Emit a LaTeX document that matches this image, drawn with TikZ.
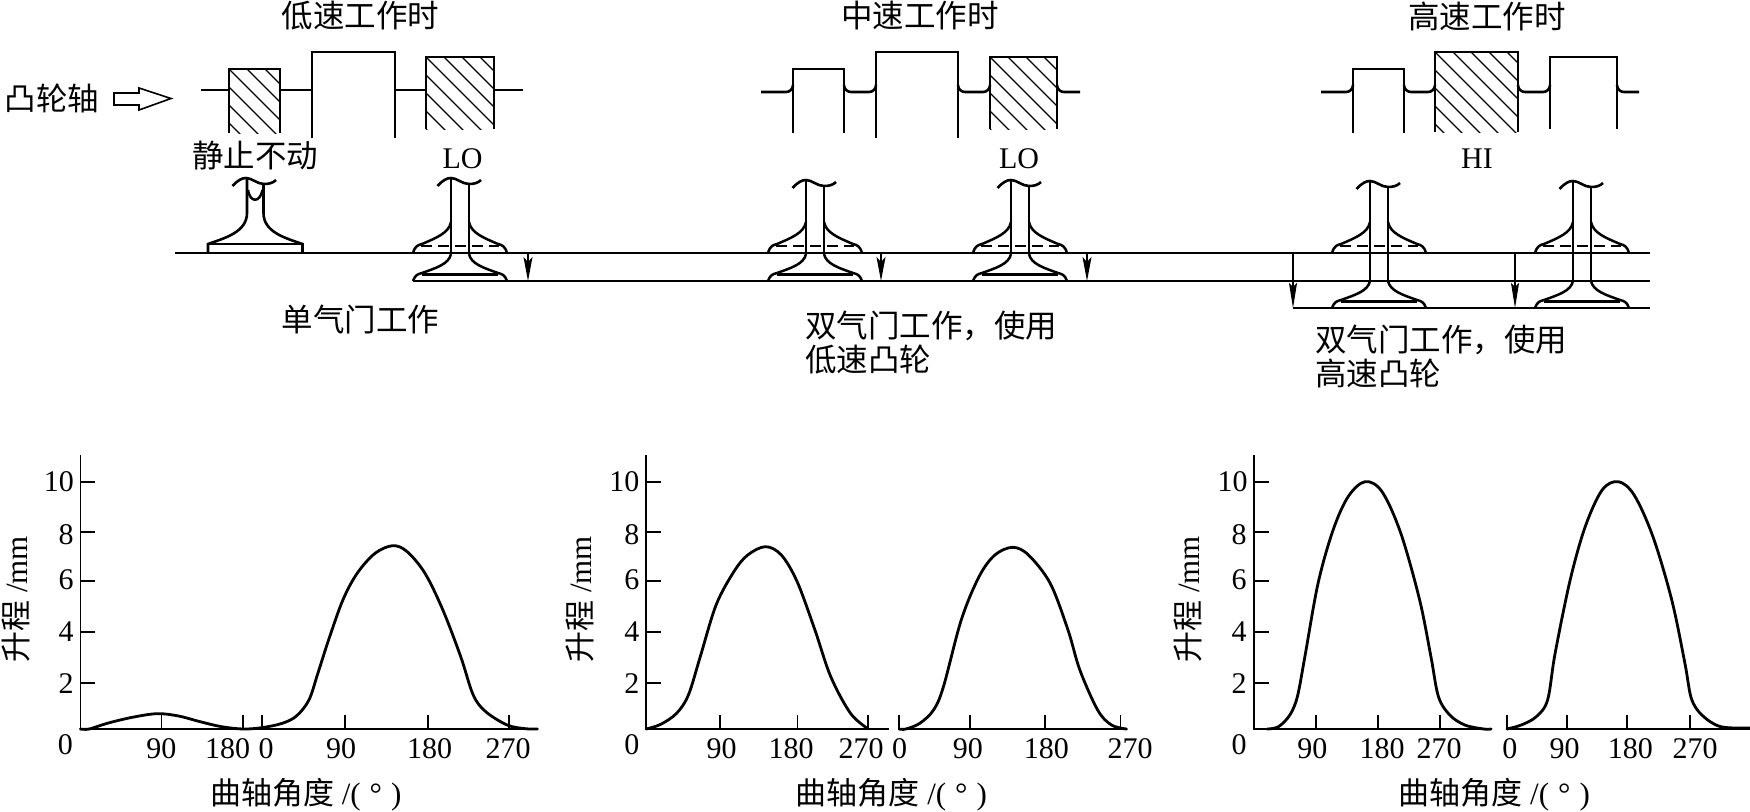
\documentclass[tikz,border=0pt]{standalone}
\usepackage{fontspec}
\setmainfont{Liberation Serif}
\newfontfamily\cn{Noto Sans CJK SC}
\usetikzlibrary{arrows.meta}
\newcommand{\hatchbox}[4]{% x1 x2 top bottom
  \begin{scope}
    \clip (#1,#3) rectangle (#2,#4);
    \foreach \o in {-144,-126,...,90} {
      \draw[hatch] (#1+\o,#3) -- ++(120,120);
    }
  \end{scope}
  \draw[thick line] (#1,#4) -- (#1,#3) -- (#2,#3) -- (#2,#4);
}
\newcommand{\plainbox}[4]{\draw[thick line] (#1,#4) -- (#1,#3) -- (#2,#3) -- (#2,#4);}
\newcommand{\fillet}[3]{% x1 x2 y : curve up into both walls
  \draw[thick line] (#1,#3-7) to[out=-90,in=180] (#1+7,#3) -- (#2-7,#3) to[out=0,in=-90] (#2,#3-7);
}
\tikzset{
  thick line/.style={line width=2.6pt,line cap=butt,line join=miter},
  flare/.style={line width=2.5pt,line cap=butt,line join=round},
  curve/.style={line width=2.8pt,line cap=round,line join=round},
  thin line/.style={line width=1.3pt},
  axis/.style={line width=1.7pt},
  hatch/.style={line width=1.2pt},
  txt/.style={inner sep=0pt,font=\cn\fontsize{31.5}{34}\selectfont},
  wide/.style={inner sep=0pt,align=left,anchor=west,font=\cn\fontsize{31.5}{34}\selectfont},
  num/.style={inner sep=0pt,font=\fontsize{30}{32}\selectfont},
  lab/.style={inner sep=0pt,font=\fontsize{30}{32}\selectfont},
  axlabel/.style={inner sep=0pt,font=\fontsize{31}{34}\selectfont},
  drop/.style={thin line,-{Stealth[length=24pt,width=9pt,inset=5pt]}},
  droplong/.style={thin line,-{Stealth[length=25pt,width=8pt,inset=4pt]}},
  valve stem/.pic={
    \draw[thick line] (-22.5,186) .. controls (-17,180) and (-13,178) .. (-9,178)
       .. controls (-3,178) and (2,184) .. (9,184) .. controls (14,184) and (18,183) .. (21,180);
  },
  valve upper/.pic={
    \draw[flare] (-47,253) .. controls (-45,246) and (-42,245) .. (-38,244)
       .. controls (-24,238) and (-11,233) .. (-9,222);
    \draw[flare] (47,253) .. controls (45,246) and (42,245) .. (38,244)
       .. controls (24,238) and (11,233) .. (9,222);
    \draw[thin line,dash pattern=on 11pt off 6pt] (-39,246) -- (39,246);
  },
  valve lower/.pic={
    \draw[flare] (-47,#1+27) .. controls (-45,#1+21) and (-42,#1+20) .. (-38,#1+19)
       .. controls (-24,#1+14) and (-11,#1+10) .. (-9,#1);
    \draw[flare] (47,#1+27) .. controls (45,#1+21) and (42,#1+20) .. (38,#1+19)
       .. controls (24,#1+14) and (11,#1+10) .. (9,#1);
    \draw[line width=3pt] (-38,#1+20.5) -- (38,#1+20.5);
  },
}
\begin{document}
\begin{tikzpicture}[x=1pt,y=-1pt]
\useasboundingbox (0,0) rectangle (1750,811);
\fill[white] (0,0) rectangle (1750,811);

% headings
\node[txt] (t1) at (360.5,16) {低速工作时};
\node[txt] (t2) at (920,16) {中速工作时};
\node[txt] (t3) at (1487,16) {高速工作时};
\node[txt] (cam) at (52,98) {凸轮轴};
\draw[line width=1.6pt,line join=miter] (114,93) -- (139,93) -- (139,88) -- (171,98.5) -- (139,110) -- (139,105) -- (114,105) -- cycle;

% low-speed cams
\hatchbox{229}{280}{69}{133}
\plainbox{312}{395}{52}{138}
\hatchbox{426}{494}{57}{129}
\draw[thick line] (201,90) -- (229,90) (280,90) -- (312,90) (395,90) -- (426,90) (494,90) -- (523,90);

% mid-speed cams
\plainbox{793}{844}{69}{133}
\plainbox{876}{958}{52}{138}
\hatchbox{990}{1057}{57}{129}
\draw[thick line] (761,92) -- (786,92) to[out=0,in=-90] (793,85);
\fillet{844}{876}{92}
\fillet{958}{990}{92}
\draw[thick line] (1057,85) to[out=-90,in=180] (1064,92) -- (1080,92);

% high-speed cams
\plainbox{1353}{1404}{69}{133}
\hatchbox{1435}{1518}{52}{132}
\plainbox{1550}{1617}{57}{129}
\draw[thick line] (1321,92) -- (1346,92) to[out=0,in=-90] (1353,85);
\fillet{1404}{1435}{92}
\fillet{1518}{1550}{92}
\draw[thick line] (1617,85) to[out=-90,in=180] (1624,92) -- (1639,92);

% labels over valves
\node[txt] (stat) at (255,156) {静止不动};
\node[lab] (lo1) at (462.5,159) {LO};
\node[lab] (lo2) at (1019,159) {LO};
\node[lab] (hi) at (1477,159) {HI};

% lift levels
\coordinate (l1a) at (175,253); \coordinate (l1b) at (1650,253);
\coordinate (l2a) at (413,281); \coordinate (l2b) at (1650,281);
\coordinate (l3a) at (1293,308); \coordinate (l3b) at (1650,308);
\draw[thick line] (l1a) -- (l1b);
\draw[thick line] (l2a) -- (l2b);
\draw[thick line] (l3a) -- (l3b);

% closed valve
\pic at (255,0) {valve stem};
\draw[thick line] (247,179) -- (247,213) .. controls (247,232) and (225,238) .. (208,244) -- (208,253);
\draw[thick line] (263.5,184) -- (263.5,213) .. controls (263.5,232) and (285,238) .. (302.5,244) -- (302.5,253);
\draw[flare] (208,244) -- (302.5,244);
\draw[flare] (248,190) .. controls (250,203) and (260,203) .. (262.5,190);

% valves lifted to second level
\foreach \c/\t in {460/0,815/2,1020/2} {
  \pic at (\c,\t) {valve stem};
  \pic at (\c,0) {valve upper};
  \pic at (\c,0) {valve lower=254};
  \draw[thick line] (\c-9,178+\t) -- (\c-9,254);
  \draw[thick line] (\c+9,184+\t) -- (\c+9,254);
}
% valves lifted to third level
\foreach \c in {1379,1582} {
  \pic at (\c,3) {valve stem};
  \pic at (\c,0) {valve upper};
  \pic at (\c,0) {valve lower=281};
  \draw[thick line] (\c-9,181) -- (\c-9,281);
  \draw[thick line] (\c+9,187) -- (\c+9,281);
}

% lift arrows
\coordinate (a1s) at (528,253); \coordinate (a1e) at (528,281);
\coordinate (a2s) at (881,253); \coordinate (a2e) at (881,281);
\coordinate (a3s) at (1087,253); \coordinate (a3e) at (1087,281);
\coordinate (a4s) at (1293,253); \coordinate (a4e) at (1293,308);
\coordinate (a5s) at (1515,253); \coordinate (a5e) at (1515,308);
\draw[drop] (a1s) -- (a1e);
\draw[drop] (a2s) -- (a2e);
\draw[drop] (a3s) -- (a3e);
\draw[droplong] (a4s) -- (a4e);
\draw[droplong] (a5s) -- (a5e);

\node[txt] (m1) at (360.5,319) {单气门工作};
\node[wide] (m2) at (805,343) {双气门工作，使用\\低速凸轮};
\node[wide] (m3) at (1315,356) {双气门工作，使用\\高速凸轮};

% ---------- plot 1
\begin{scope}[shift={(0,440)},x=0.35714pt,y=-0.33333pt]
  \draw[axis] (225,45) -- (225,867) -- (1505,867);
  \foreach \y in {125,277,423,577,729} \draw[axis] (225,\y) -- (267,\y);
  \foreach \x in {452,681,733,966,1198,1425} \draw[axis] (\x,867) -- (\x,825);
  \draw[curve] plot[smooth,tension=0.55] coordinates {(225,867)(250,867)(300,850)(370,832)(440,821)(500,828)(560,845)(620,860)(680,867)(733,863)(790,850)(830,828)(865,780)(890,700)(920,600)(960,480)(1000,400)(1050,340)(1100,317)(1140,335)(1190,400)(1240,510)(1290,650)(1325,765)(1360,815)(1420,855)(1470,866)(1505,867)};
  \node[num] (p1y10) at (165,125) {10};
  \node[num] (p1y8) at (185,283) {8};
  \node[num] (p1y6) at (185,420) {6};
  \node[num] (p1y4) at (185,575) {4};
  \node[num] (p1y2) at (185,730) {2};
  \node[num] (p1x0) at (183,915) {0};
  \node[num] (p1x90) at (452,925) {90};
  \node[num] (p1x180) at (637,925) {180};
  \node[num] (p1x0b) at (745,925) {0};
  \node[num] (p1x90b) at (955,925) {90};
  \node[num] (p1x180b) at (1203,925) {180};
  \node[num] (p1x270) at (1423,925) {270};
  \node[axlabel,rotate=90] (p1yl) at (45,478) {{\cn 升程}\ /mm};
  \node[axlabel] (p1xl) at (856,1065) {{\cn 曲轴角度}\ /(\hspace{9pt}°\hspace{9pt})};
\end{scope}

% ---------- plot 2
\begin{scope}[shift={(550,440)},x=0.39541pt,y=-0.33333pt]
  \draw[axis] (243,45) -- (243,867) -- (857,867);
  \draw[axis] (883,825) -- (883,867) -- (1458,867);
  \foreach \y in {125,277,423,577,729} \draw[axis] (243,\y) -- (281,\y);
  \foreach \x in {430,626,805,1063,1251,1443} \draw[axis] (\x,867) -- (\x,825);
  \draw[curve] plot[smooth,tension=0.55] coordinates {(243,867)(280,853)(320,820)(350,765)(380,650)(420,495)(465,395)(500,345)(545,320)(585,345)(625,425)(670,570)(710,710)(760,820)(805,867)};
  \draw[curve] plot[smooth,tension=0.55] coordinates {(883,867)(900,867)(935,850)(970,810)(995,740)(1040,540)(1085,410)(1125,345)(1170,322)(1210,345)(1265,430)(1310,570)(1340,690)(1385,810)(1420,855)(1458,867)};
  \node[num] (p2y10) at (188,125) {10};
  \node[num] (p2y8) at (207,283) {8};
  \node[num] (p2y6) at (207,420) {6};
  \node[num] (p2y4) at (207,575) {4};
  \node[num] (p2y2) at (207,730) {2};
  \node[num] (p2x0) at (207,915) {0};
  \node[num] (p2x90) at (434,925) {90};
  \node[num] (p2x180) at (610,925) {180};
  \node[num] (p2x270) at (787,925) {270};
  \node[num] (p2x0b) at (884,925) {0};
  \node[num] (p2x90b) at (1057,925) {90};
  \node[num] (p2x180b) at (1255,925) {180};
  \node[num] (p2x270b) at (1467,925) {270};
  \node[axlabel,rotate=90] (p2yl) at (75,478) {{\cn 升程}\ /mm};
  \node[axlabel] (p2xl) at (863,1065) {{\cn 曲轴角度}\ /(\hspace{9pt}°\hspace{9pt})};
\end{scope}

% ---------- plot 3
\begin{scope}[shift={(1160,440)},x=0.37628pt,y=-0.33333pt]
  \draw[axis] (250,45) -- (250,867) -- (880,867);
  \draw[axis] (922,825) -- (922,867) -- (1568,867);
  \foreach \y in {125,277,423,577,729} \draw[axis] (250,\y) -- (290,\y);
  \foreach \x in {414,580,744,1082,1241,1408} \draw[axis] (\x,867) -- (\x,825);
  \draw[curve] plot[smooth,tension=0.55] coordinates {(285,867)(315,860)(345,825)(365,770)(385,650)(420,430)(460,270)(500,170)(545,125)(590,155)(640,280)(690,480)(720,650)(740,770)(770,825)(810,855)(860,867)(880,867)};
  \draw[curve] plot[smooth,tension=0.55] coordinates {(922,867)(960,855)(1000,830)(1030,780)(1050,640)(1090,420)(1130,260)(1175,150)(1218,125)(1260,165)(1310,290)(1360,480)(1395,670)(1412,775)(1440,825)(1490,860)(1568,864)};
  \node[num] (p3y10) at (193,125) {10};
  \node[num] (p3y8) at (210,283) {8};
  \node[num] (p3y6) at (210,420) {6};
  \node[num] (p3y4) at (210,575) {4};
  \node[num] (p3y2) at (210,730) {2};
  \node[num] (p3x0) at (210,915) {0};
  \node[num] (p3x90) at (405,925) {90};
  \node[num] (p3x180) at (590,925) {180};
  \node[num] (p3x270) at (742,925) {270};
  \node[num] (p3x0b) at (930,925) {0};
  \node[num] (p3x90b) at (1075,925) {90};
  \node[num] (p3x180b) at (1250,925) {180};
  \node[num] (p3x270b) at (1422,925) {270};
  \node[axlabel,rotate=90] (p3yl) at (75,478) {{\cn 升程}\ /mm};
  \node[axlabel] (p3xl) at (888,1065) {{\cn 曲轴角度}\ /(\hspace{9pt}°\hspace{9pt})};
\end{scope}
\end{tikzpicture}
\end{document}
